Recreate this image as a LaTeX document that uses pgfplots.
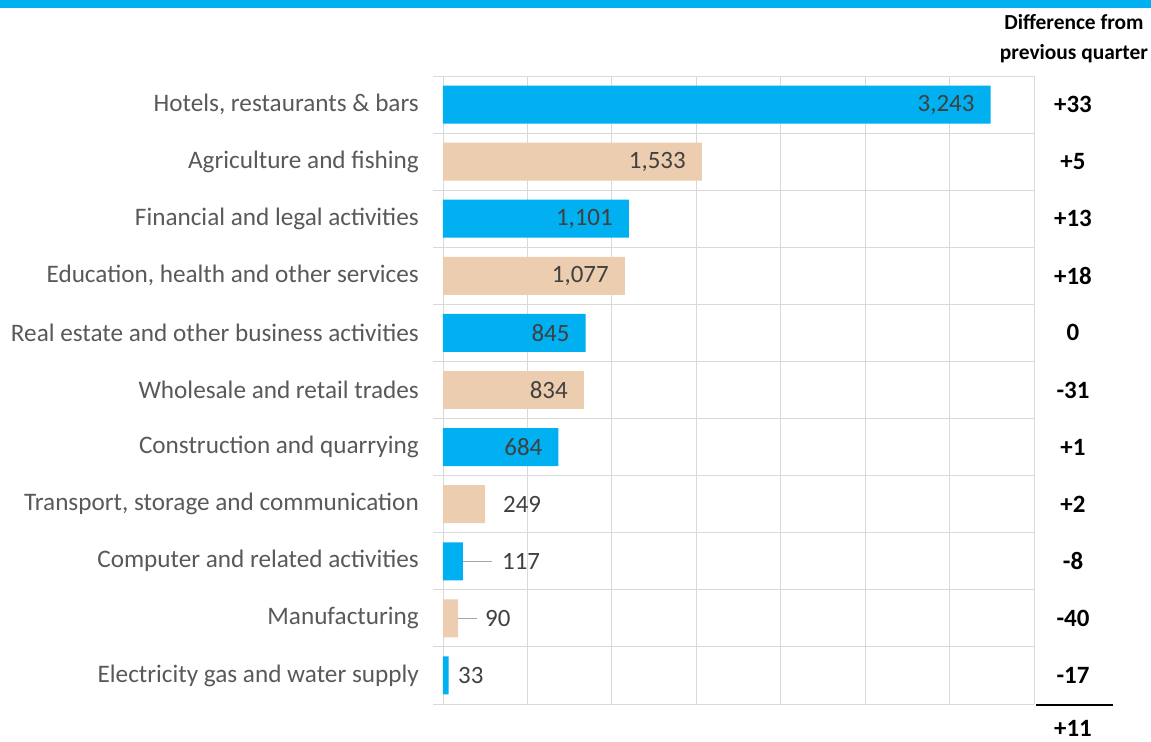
\documentclass[border=0pt]{standalone}
\usepackage{pgfplots}
\pgfplotsset{compat=1.18}
\usepackage{pgfplotstable}
\usepackage{fontspec}
\setmainfont{Carlito}
\definecolor{xlblue}{HTML}{00B0F0}
\definecolor{xlbeige}{HTML}{EDCDAF}
\definecolor{gridgray}{HTML}{D9D9D9}
\definecolor{labgray}{HTML}{595959}
\definecolor{numgray}{HTML}{404040}

\pgfplotstableread{
y x
0 3243
2 1101
4 845
6 684
8 117
10 33
}\blueT

\pgfplotstableread{
y x
1 1533
3 1077
5 834
7 249
9 90
}\beigeT

\pgfplotstableread{
y x
0 3243
1 1533
2 1101
3 1077
4 845
5 834
6 684
}\inT

\pgfplotstableread{
y x label
7 355 249
8 349 117
9 249 90
10 89 33
}\outT

\pgfplotstableread{
y x label
0 3731 +33
1 3731 +5
2 3731 +13
3 3731 +18
4 3731 0
5 3731 -31
6 3731 +1
7 3731 +2
8 3731 -8
9 3731 -40
10 3731 -17
10.93 3731 +11
}\diffT

\begin{document}
\begin{tikzpicture}
\useasboundingbox (0,0) rectangle (1151bp,742bp);
\fill[xlblue] (0,734bp) rectangle (1151bp,742bp);
\begin{axis}[
  at={(443bp,38bp)}, anchor=south west,
  scale only axis, width=591bp, height=628bp,
  xmin=0, xmax=3500, ymin=-0.5, ymax=10.5, y dir=reverse,
  axis line style={draw=none},
  xtick={0,500,...,3500}, xticklabels={}, xmajorgrids,
  major x tick style={draw=none},
  ytick={0,...,10},
  yticklabels={{Hotels, restaurants \& bars},{Agriculture and fishing},{Financial and legal activities},{Education, health and other services},{Real estate and other business activities},{Wholesale and retail trades},{Construction and quarrying},{Transport, storage and communication},{Computer and related activities},{Manufacturing},{Electricity gas and water supply}},
  major y tick style={draw=none},
  major tick length=0pt,
  minor ytick={-0.5,0.5,...,10.5}, yminorgrids,
  minor tick length=10bp, tick align=outside, ytick pos=left,
  grid style={color=gridgray, line width=0.9bp},
  minor y tick style={color=gridgray, line width=0.9bp},
  yticklabel style={font=\fontsize{25.3}{25.3}\selectfont, text=labgray, anchor=east, inner sep=0pt, xshift=-24bp},
  clip=false,
]
\addplot[xbar, bar width=0.665, fill=xlblue, draw=none] table[x=x,y=y] {\blueT};
\addplot[xbar, bar width=0.665, fill=xlbeige, draw=none] table[x=x,y=y] {\beigeT};
% leader lines
\addplot[color=gray!70, line width=0.9bp, mark=none] coordinates {(117,8) (290,8)};
\addplot[color=gray!70, line width=0.9bp, mark=none] coordinates {(90,9) (201,9)};
% inside labels
\addplot[draw=none, mark=none, point meta=x,
  nodes near coords={\pgfmathprintnumber[assume math mode=true, 1000 sep={,}]{\pgfplotspointmeta}},
  nodes near coords style={anchor=east, xshift=-16bp, inner sep=0pt, font=\fontsize{25}{25}\selectfont, text=numgray}]
  table[x=x,y=y] {\inT};
% outside labels
\addplot[draw=none, mark=none, point meta=explicit symbolic,
  nodes near coords, 
  nodes near coords style={anchor=west, inner sep=0pt, font=\fontsize{25}{25}\selectfont, text=numgray}]
  table[x=x,y=y,meta=label] {\outT};
% difference column
\addplot[draw=none, mark=none, point meta=explicit symbolic,
  nodes near coords,
  nodes near coords style={anchor=center, inner sep=0pt, font=\bfseries\fontsize{25}{25}\selectfont, text=black}]
  table[x=x,y=y,meta=label] {\diffT};
\draw[black, line width=1.6bp] (axis cs:3510,10.52) -- (axis cs:3968,10.52);
\end{axis}
\node[anchor=base, inner sep=0pt, font=\bfseries\fontsize{21.5}{21.5}\selectfont] at (1074bp,712bp) {Difference from};
\node[anchor=base, inner sep=0pt, font=\bfseries\fontsize{21.5}{21.5}\selectfont] at (1074bp,682bp) {previous quarter};
\end{tikzpicture}
\end{document}
